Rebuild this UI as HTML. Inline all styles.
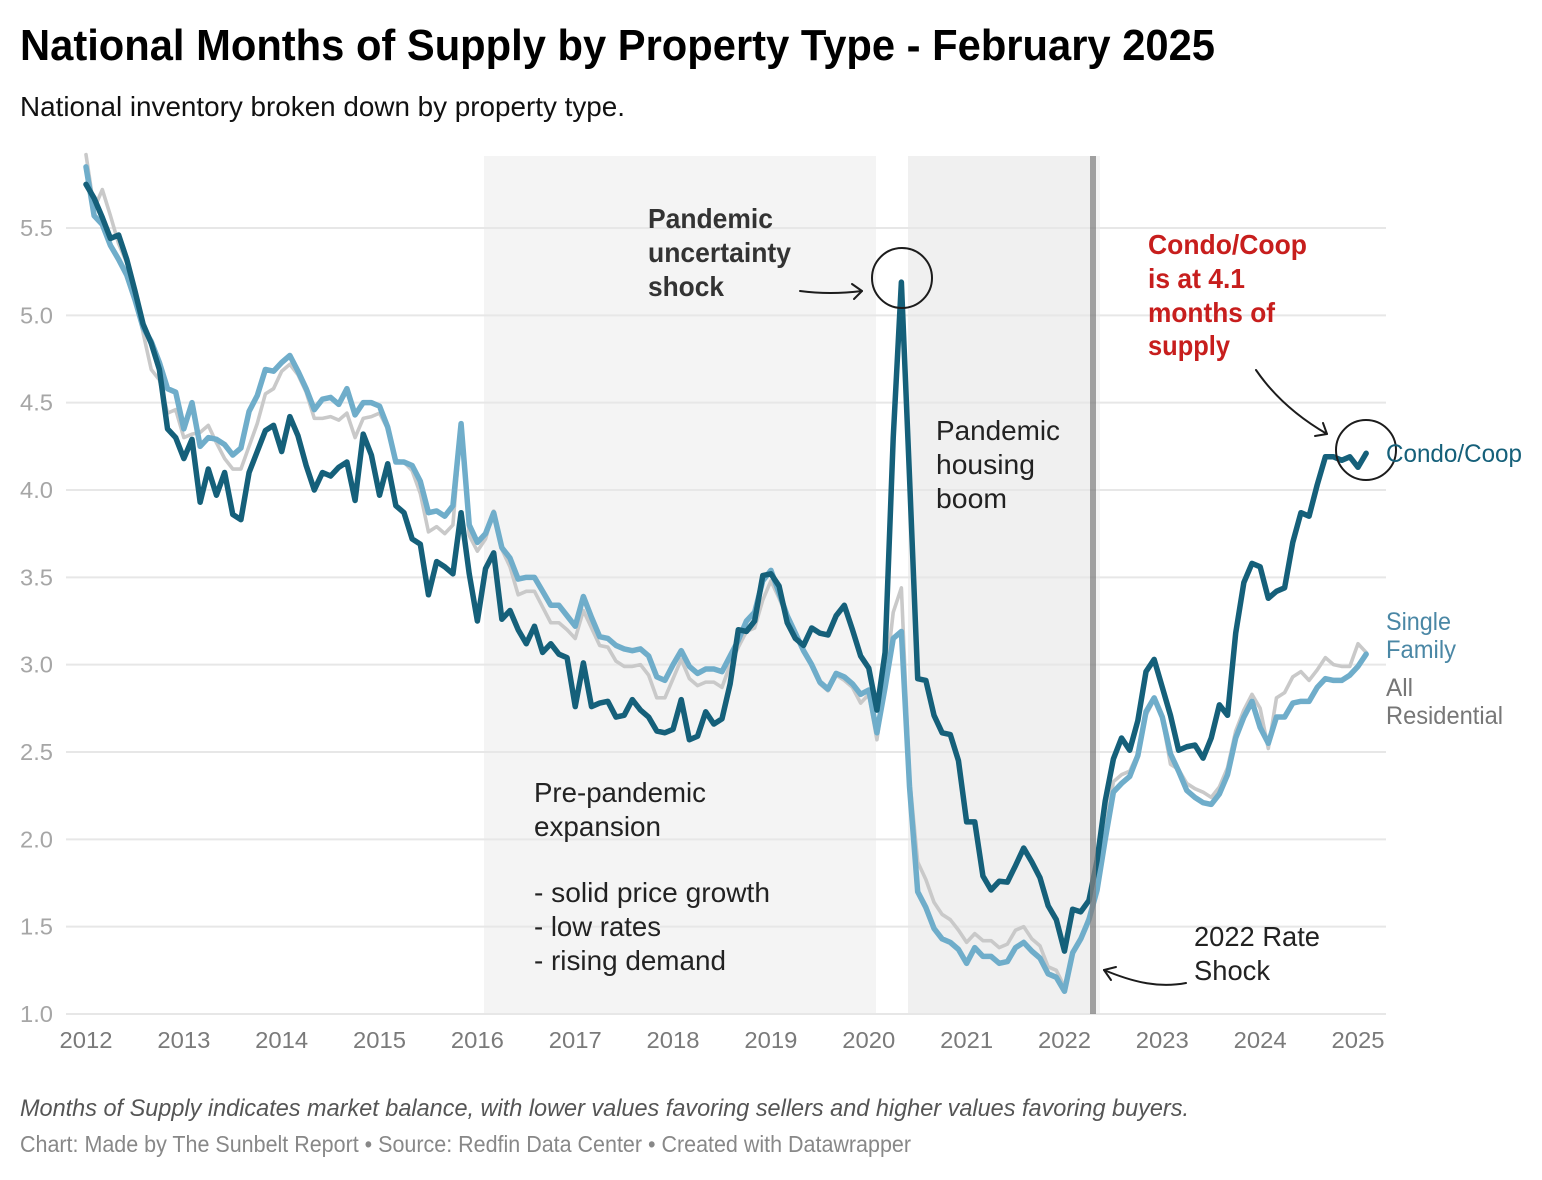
<!DOCTYPE html>
<html lang="en">
<head>
<meta charset="utf-8">
<title>National Months of Supply by Property Type - February 2025</title>
<style>
html,body{margin:0;padding:0;background:#fff;width:1542px;height:1180px;overflow:hidden}
svg{display:block}
text{font-family:"Liberation Sans",Arial,sans-serif}
.ann{font-size:28px}
.b{font-weight:700}
.lab{font-size:25px}
</style>
</head>
<body>
<svg id="chart" xmlns="http://www.w3.org/2000/svg" width="1542" height="1180" viewBox="0 0 1542 1180">
  <text x="20" y="60" font-size="44" font-weight="700" fill="#000" textLength="1195" lengthAdjust="spacingAndGlyphs">National Months of Supply by Property Type - February 2025</text>
  <text x="20" y="116" font-size="27.5" fill="#111" textLength="605" lengthAdjust="spacingAndGlyphs">National inventory broken down by property type.</text>

  <rect x="484" y="156" width="392" height="858" fill="#f4f4f4"/>
  <rect x="908" y="156" width="182" height="858" fill="#f0f0f0"/>
  <rect x="1096" y="156" width="4" height="858" fill="#f4f4f4"/>

  <g id="grid"></g>
  <g id="yticks"></g>
  <g id="xticks"></g>
  <g id="lines"></g>

  <rect x="1090" y="156" width="6" height="858" fill="#808080" fill-opacity="0.75"/>

  <circle cx="902" cy="278" r="30" fill="none" stroke="#1c1c1c" stroke-width="2"/>
  <circle cx="1366" cy="450" r="30" fill="none" stroke="#1c1c1c" stroke-width="2"/>

  <g fill="none" stroke="#1c1c1c" stroke-width="2" stroke-linecap="round" stroke-linejoin="round">
    <path d="M800 291 Q830 295 862 291"/>
    <path d="M852 284 L862 291 L854 299"/>
  </g>
  <g fill="none" stroke="#1c1c1c" stroke-width="2" stroke-linecap="round" stroke-linejoin="round">
    <path d="M1186 983 C1160 988 1135 983 1104 970"/>
    <path d="M1116 967 L1104 970 L1111 980"/>
  </g>
  <g fill="none" stroke="#1c1c1c" stroke-width="2" stroke-linecap="round" stroke-linejoin="round">
    <path d="M1256 370 Q1282 408 1327 434"/>
    <path d="M1323 423 L1327 434 L1315 436"/>
  </g>

  <g class="ann b" fill="#333">
    <text x="648" y="228" textLength="125" lengthAdjust="spacingAndGlyphs">Pandemic</text>
    <text x="648" y="262" textLength="143" lengthAdjust="spacingAndGlyphs">uncertainty</text>
    <text x="648" y="296" textLength="76" lengthAdjust="spacingAndGlyphs">shock</text>
  </g>
  <g class="ann" fill="#222">
    <text x="936" y="440" textLength="124" lengthAdjust="spacingAndGlyphs">Pandemic</text>
    <text x="936" y="474" textLength="99" lengthAdjust="spacingAndGlyphs">housing</text>
    <text x="936" y="508" textLength="71" lengthAdjust="spacingAndGlyphs">boom</text>
  </g>
  <g class="ann" fill="#222">
    <text x="534" y="802" textLength="172" lengthAdjust="spacingAndGlyphs">Pre-pandemic</text>
    <text x="534" y="836" textLength="127" lengthAdjust="spacingAndGlyphs">expansion</text>
    <text x="534" y="902" textLength="236" lengthAdjust="spacingAndGlyphs">- solid price growth</text>
    <text x="534" y="936" textLength="127" lengthAdjust="spacingAndGlyphs">- low rates</text>
    <text x="534" y="970" textLength="192" lengthAdjust="spacingAndGlyphs">- rising demand</text>
  </g>
  <g class="ann" fill="#222">
    <text x="1194" y="946" textLength="126" lengthAdjust="spacingAndGlyphs">2022 Rate</text>
    <text x="1194" y="980" textLength="76" lengthAdjust="spacingAndGlyphs">Shock</text>
  </g>
  <g class="ann b" fill="#c71e1d">
    <text x="1148" y="254" textLength="159" lengthAdjust="spacingAndGlyphs">Condo/Coop</text>
    <text x="1148" y="288" textLength="97" lengthAdjust="spacingAndGlyphs">is at 4.1</text>
    <text x="1148" y="322" textLength="127" lengthAdjust="spacingAndGlyphs">months of</text>
    <text x="1148" y="355" textLength="82" lengthAdjust="spacingAndGlyphs">supply</text>
  </g>

  <text class="lab" x="1386" y="462" fill="#15607a" textLength="136" lengthAdjust="spacingAndGlyphs">Condo/Coop</text>
  <g class="lab" fill="#4a87a5">
    <text x="1386" y="630" textLength="65" lengthAdjust="spacingAndGlyphs">Single</text>
    <text x="1386" y="658" textLength="70" lengthAdjust="spacingAndGlyphs">Family</text>
  </g>
  <g class="lab" fill="#777">
    <text x="1386" y="696" textLength="27" lengthAdjust="spacingAndGlyphs">All</text>
    <text x="1386" y="724" textLength="117" lengthAdjust="spacingAndGlyphs">Residential</text>
  </g>

  <text x="20" y="1116" font-size="24" font-style="italic" fill="#555" textLength="1169" lengthAdjust="spacingAndGlyphs">Months of Supply indicates market balance, with lower values favoring sellers and higher values favoring buyers.</text>
  <text x="20" y="1152" font-size="23" fill="#888" textLength="891" lengthAdjust="spacingAndGlyphs">Chart: Made by The Sunbelt Report • Source: Redfin Data Center • Created with Datawrapper</text>
</svg>
<script>
const xTickYears = [2012,2013,2014,2015,2016,2017,2018,2019,2020,2021,2022,2023,2024,2025];
const yTickValues = [1.0,1.5,2.0,2.5,3.0,3.5,4.0,4.5,5.0,5.5];
const allResidential = [
5.92,5.61,5.72,5.57,5.41,5.30,5.12,4.90,4.69,4.63,4.44,4.46,
4.30,4.32,4.33,4.37,4.27,4.18,4.12,4.12,4.25,4.38,4.55,4.58,
4.68,4.72,4.66,4.56,4.41,4.41,4.42,4.40,4.44,4.30,4.41,4.42,
4.44,4.35,4.17,4.16,4.11,3.98,3.76,3.79,3.75,3.80,4.37,3.74,
3.65,3.72,3.88,3.66,3.56,3.40,3.42,3.42,3.33,3.24,3.24,3.20,
3.15,3.31,3.21,3.11,3.10,3.02,2.99,2.99,3.00,2.94,2.81,2.81,
2.92,3.03,2.92,2.88,2.90,2.90,2.87,3.00,3.10,3.19,3.21,3.37,
3.48,3.38,3.27,3.17,3.08,2.99,2.89,2.85,2.94,2.91,2.87,2.78,
2.83,2.57,2.89,3.30,3.44,2.35,1.87,1.77,1.64,1.57,1.54,1.48,
1.41,1.46,1.42,1.42,1.38,1.40,1.48,1.50,1.43,1.39,1.27,1.25,
1.155,1.36,1.43,1.56,1.75,2.05,2.33,2.37,2.39,2.49,2.71,2.80,
2.69,2.43,2.40,2.32,2.29,2.27,2.24,2.30,2.41,2.62,2.74,2.83,
2.75,2.52,2.81,2.84,2.93,2.96,2.91,2.97,3.04,3.00,2.99,2.99,
3.12,3.07];
const singleFamily = [
5.85,5.57,5.52,5.40,5.32,5.23,5.09,4.93,4.85,4.73,4.58,4.56,
4.35,4.50,4.25,4.30,4.29,4.26,4.20,4.24,4.45,4.54,4.69,4.68,
4.73,4.77,4.68,4.58,4.46,4.52,4.53,4.49,4.58,4.43,4.50,4.50,
4.48,4.36,4.16,4.16,4.14,4.05,3.87,3.88,3.85,3.91,4.38,3.80,
3.70,3.75,3.87,3.67,3.61,3.49,3.50,3.50,3.42,3.34,3.34,3.28,
3.22,3.39,3.27,3.16,3.15,3.11,3.09,3.08,3.09,3.05,2.93,2.91,
3.00,3.08,2.99,2.95,2.975,2.975,2.96,3.05,3.14,3.25,3.30,3.48,
3.54,3.41,3.28,3.18,3.08,3.00,2.90,2.86,2.95,2.93,2.89,2.83,
2.855,2.61,2.87,3.15,3.19,2.30,1.70,1.61,1.49,1.43,1.41,1.37,
1.29,1.38,1.33,1.33,1.29,1.30,1.38,1.41,1.36,1.32,1.23,1.21,
1.13,1.35,1.43,1.54,1.71,2.00,2.27,2.32,2.36,2.48,2.73,2.81,
2.70,2.49,2.39,2.28,2.24,2.21,2.20,2.26,2.37,2.58,2.70,2.79,
2.64,2.55,2.70,2.70,2.78,2.79,2.79,2.87,2.92,2.91,2.91,2.94,
2.99,3.06];
const condoCoop = [
5.75,5.67,5.56,5.44,5.46,5.32,5.14,4.95,4.84,4.69,4.35,4.30,
4.18,4.29,3.93,4.12,3.97,4.10,3.86,3.83,4.10,4.22,4.34,4.37,
4.22,4.42,4.31,4.14,4.00,4.10,4.08,4.13,4.16,3.94,4.32,4.20,
3.97,4.15,3.91,3.87,3.72,3.69,3.40,3.59,3.56,3.52,3.87,3.52,
3.25,3.55,3.64,3.26,3.31,3.20,3.12,3.22,3.07,3.12,3.06,3.04,
2.76,3.01,2.76,2.78,2.79,2.70,2.71,2.80,2.74,2.70,2.62,2.61,
2.63,2.80,2.57,2.59,2.73,2.66,2.69,2.89,3.20,3.19,3.25,3.51,
3.52,3.45,3.24,3.15,3.11,3.21,3.18,3.17,3.28,3.34,3.20,3.05,
2.98,2.74,3.07,4.30,5.19,4.07,2.92,2.91,2.71,2.61,2.60,2.45,
2.10,2.10,1.79,1.71,1.76,1.755,1.85,1.95,1.87,1.78,1.62,1.54,
1.36,1.60,1.585,1.65,1.88,2.22,2.46,2.58,2.51,2.68,2.96,3.03,
2.87,2.71,2.51,2.53,2.54,2.465,2.58,2.77,2.71,3.18,3.47,3.58,
3.56,3.38,3.42,3.44,3.70,3.87,3.85,4.03,4.19,4.19,4.17,4.19,
4.13,4.21];

const SVG_NS = 'http://www.w3.org/2000/svg';
const xOrigin = 86, xPerYear = 1272 / 13, yBase = 1014, yPerUnit = 174.67;
function xForMonth(monthIndex) { return xOrigin + monthIndex * xPerYear / 12; }
function xForYear(year) { return xOrigin + (year - xTickYears[0]) * xPerYear; }
function yForValue(value) { return yBase - (value - 1) * yPerUnit; }
function node(tag, parentId, attrs) {
  const el = document.createElementNS(SVG_NS, tag);
  Object.keys(attrs).forEach(function (k) { el.setAttribute(k, attrs[k]); });
  document.getElementById(parentId).appendChild(el);
  return el;
}

yTickValues.forEach(function (v) {
  const line = node('line', 'grid', { x1: 66, x2: 1386, y1: yForValue(v), y2: yForValue(v), stroke: '#e7e7e7', 'stroke-width': 2 });
  
  
  const label = node('text', 'yticks', { x: 20, y: yForValue(v) + 8, 'font-size': 23.5, fill: '#a6a6a6', textLength: 33, lengthAdjust: 'spacingAndGlyphs' });
  label.textContent = v.toFixed(1);
  
  
});

xTickYears.forEach(function (y) {
  const label = node('text', 'xticks', { x: xForYear(y), y: 1048, 'font-size': 23.5, fill: '#7a7a7a', 'text-anchor': 'middle', textLength: 53, lengthAdjust: 'spacingAndGlyphs' });
  label.textContent = String(y);
  
  
});

function pathFor(values) {
  return values.map(function (v, i) {
    return (i ? 'L' : 'M') + xForMonth(i).toFixed(2) + ' ' + yForValue(v).toFixed(2);
  }).join(' ');
}

const grayLine = node('path', 'lines', { d: pathFor(allResidential), fill: 'none', stroke: '#c9c9c9', 'stroke-width': 3.6, 'stroke-linejoin': 'round', 'stroke-linecap': 'round' });


const lightLine = node('path', 'lines', { d: pathFor(singleFamily), fill: 'none', stroke: '#6fadca', 'stroke-width': 5.5, 'stroke-linejoin': 'round', 'stroke-linecap': 'round' });


const darkLine = node('path', 'lines', { d: pathFor(condoCoop), fill: 'none', stroke: '#15607a', 'stroke-width': 5.5, 'stroke-linejoin': 'round', 'stroke-linecap': 'round' });


</script>
</body>
</html>
